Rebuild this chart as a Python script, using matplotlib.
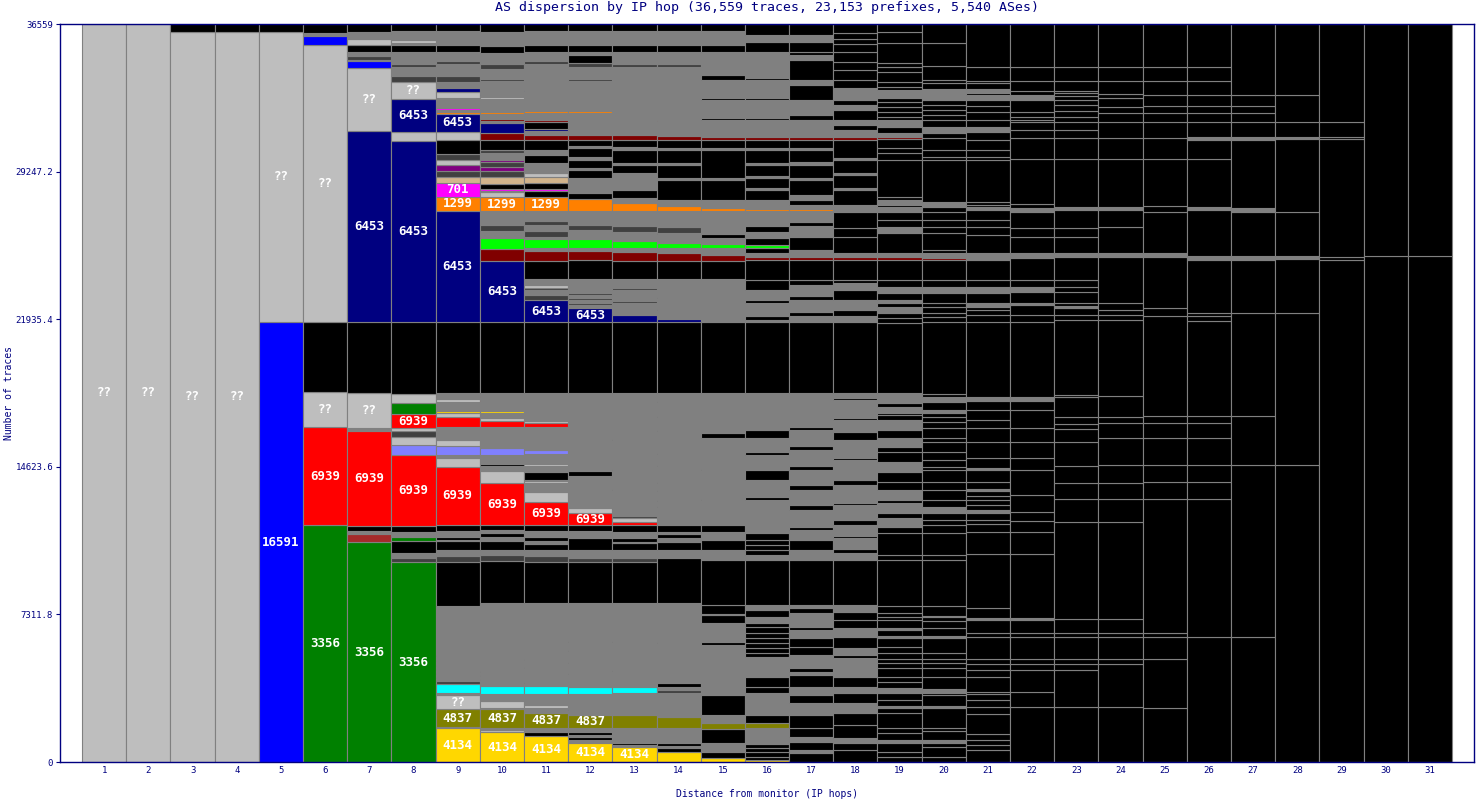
import matplotlib
matplotlib.use("Agg")
import matplotlib.pyplot as plt
import numpy as np

title = "AS dispersion by IP hop (36,559 traces, 23,153 prefixes, 5,540 ASes)"
total_traces = 36559
hops = list(range(1, 32))
y_ticks = [0, 7311.8, 14623.6, 21935.4, 29247.2, 36559]
y_tick_labels = ["0", "7311.8", "14623.6", "21935.4", "29247.2", "36559"]

colors = {
    "g": "#bebebe", "k": "#000000", "m": "#808080", "d": "#404040",
    "B": "#0000ff", "N": "#000080", "R": "#ff0000", "G": "#008000",
    "L": "#00ff00", "O": "#ff8000", "M": "#ff00ff", "Y": "#ffd700",
    "V": "#808000", "C": "#00ffff", "W": "#800000", "P": "#800080",
    "T": "#d2b48c", "S": "#8080ff", "b": "#a52a2a",
}

# hops 1-15: (traces, colour, AS) stacked from the bottom
hop1 = [(36559, "g", "??")]
hop2 = [(36559, "g", "??")]
hop3 = [(36185, "g", "??"), (450, "k")]
hop4 = [(36185, "g", "??"), (450, "k")]
hop5 = [(21780, "B", "16591"), (14405, "g", "??"), (450, "k")]
hop6 = [(11730, "G", "3356"), (4850, "R", "6939"), (1730, "g", "??"), (3465, "k"),
        (13760, "g", "??"), (445, "B"), (100, "m"), (50, "G"), (450, "k")]
hop7 = [(10890, "G", "3356"), (396, "b"), (150, "m"), (250, "k"), (4700, "R", "6939"),
        (150, "m"), (1730, "g", "??"), (3515, "k"), (9455, "N", "6453"), (3120, "g", "??"),
        (347, "B"), (50, "m"), (198, "d"), (198, "m"), (347, "k"), (297, "g"), (99, "m"),
        (50, "B"), (198, "m"), (450, "k")]
hop8 = [(9900, "G", "3356"), (200, "d"), (250, "m"), (594, "k"), (198, "G"), (250, "m"),
        (297, "k"), (3515, "R", "6939"), (495, "S"), (396, "g"), (297, "d"), (150, "g"),
        (693, "R", "6939"), (545, "G"), (445, "g"), (3564, "k"), (8960, "N", "6453"),
        (445, "g"), (1634, "N", "6453"), (842, "g", "??"), (297, "d"), (445, "m"), (150, "d"),
        (594, "m"), (347, "k"), (100, "m"), (150, "g"), (297, "m"), (50, "G"), (100, "m"),
        (450, "k")]
hop9 = [(1683, "Y", "4134"), (50, "m"), (891, "V", "4837"), (693, "g", "??"), (99, "m"),
        (446, "C"), (150, "d"), (150, "m"), (50, "d"), (150, "m"), (50, "d"), (150, "m"),
        (50, "d"), (150, "m"), (50, "d"), (200, "m"), (50, "d"), (200, "m"), (50, "d"),
        (200, "m"), (2228, "m"), (2180, "k"), (297, "d"), (297, "m"), (446, "k"), (50, "g"),
        (150, "k"), (297, "m"), (297, "k"), (2871, "R", "6939"), (446, "g"), (150, "m"),
        (446, "S"), (297, "g"), (644, "m"), (495, "R"), (198, "g"), (99, "Y"), (446, "m"),
        (150, "g"), (99, "m"), (50, "R"), (150, "m"), (3515, "k"), (5495, "N", "6453"),
        (693, "O", "1299"), (693, "M", "701"), (297, "T"), (297, "d"), (297, "P"), (248, "g"),
        (297, "d"), (693, "k"), (396, "g"), (891, "N", "6453"), (99, "O"), (99, "m"),
        (99, "M"), (495, "m"), (297, "g"), (198, "N"), (297, "m"), (297, "d"), (594, "m"),
        (150, "d"), (446, "m"), (347, "k"), (693, "m"), (450, "k")]
hop10 = [(1485, "Y", "4134"), (99, "g"), (99, "m"), (941, "V", "4837"), (50, "m"), (347, "g"),
         (347, "m"), (396, "C"), (149, "m"), (50, "d"), (99, "m"), (50, "d"), (149, "m"),
         (50, "d"), (149, "m"), (50, "d"), (3366, "m"), (2079, "k"), (297, "d"), (248, "m"),
         (446, "k"), (198, "m"), (198, "k"), (149, "m"), (248, "k"), (2079, "R", "6939"),
         (594, "g"), (248, "m"), (99, "k"), (446, "m"), (347, "S"), (1040, "m"), (297, "R"),
         (149, "g"), (248, "m"), (99, "Y"), (495, "m"), (50, "R"), (149, "m"), (50, "R"),
         (149, "m"), (3515, "k"), (3020, "N", "6453"), (594, "W"), (545, "L"), (347, "m"),
         (297, "d"), (297, "m"), (50, "T"), (347, "m"), (693, "O", "1299"), (248, "g"),
         (50, "m"), (99, "M"), (248, "k"), (347, "T"), (297, "d"), (198, "P"), (248, "d"),
         (99, "P"), (347, "m"), (150, "d"), (495, "k"), (347, "W"), (495, "N"), (99, "m"),
         (99, "W"), (50, "L"), (198, "m"), (99, "O"), (248, "m"), (50, "T"), (347, "m"),
         (99, "g"), (99, "m"), (50, "N"), (150, "m"), (50, "N"), (446, "m"), (99, "d"),
         (495, "m"), (248, "d"), (545, "m"), (347, "k"), (693, "m"), (450, "k")]
hop11 = [(1287, "Y", "4134"), (198, "k"), (198, "m"), (743, "V", "4837"), (248, "m"),
         (149, "g"), (545, "m"), (396, "C"), (149, "m"), (50, "k"), (693, "m"), (50, "d"),
         (347, "m"), (50, "d"), (2772, "m"), (2030, "k"), (297, "d"), (297, "m"), (297, "k"),
         (149, "m"), (198, "k"), (297, "m"), (297, "k"), (1139, "R", "6939"), (495, "g"),
         (446, "m"), (99, "g"), (50, "m"), (396, "k"), (297, "m"), (99, "g"), (495, "m"),
         (198, "S"), (1139, "m"), (198, "R"), (99, "g"), (396, "m"), (50, "Y"), (941, "m"),
         (3515, "k"), (1089, "N", "6453"), (248, "d"), (248, "m"), (99, "d"), (149, "g"),
         (297, "m"), (891, "k"), (495, "W"), (149, "m"), (446, "L"), (99, "m"), (297, "d"),
         (297, "m"), (198, "d"), (50, "g"), (446, "m"), (693, "O", "1299"), (297, "k"),
         (99, "M"), (297, "k"), (297, "T"), (198, "g"), (495, "m"), (396, "k"), (248, "m"),
         (495, "k"), (248, "W"), (198, "m"), (99, "N"), (347, "k"), (99, "W"), (347, "m"),
         (99, "O"), (248, "m"), (50, "T"), (396, "m"), (50, "g"), (248, "m"), (50, "N"),
         (1287, "m"), (149, "d"), (446, "m"), (347, "k"), (693, "m"), (450, "k")]
hop12 = [(941, "Y", "4134"), (149, "m"), (149, "k"), (99, "m"), (149, "k"), (198, "m"),
         (644, "V", "4837"), (248, "m"), (50, "k"), (743, "m"), (347, "C"), (644, "m"),
         (50, "k"), (495, "m"), (50, "k"), (545, "m"), (50, "k"), (396, "m"), (50, "k"),
         (1881, "m"), (2030, "k"), (198, "d"), (396, "m"), (594, "k"), (347, "m"), (297, "k"),
         (594, "R", "6939"), (248, "g"), (347, "m"), (50, "g"), (1188, "m"), (248, "k"),
         (842, "m"), (50, "S"), (1287, "m"), (50, "R"), (644, "m"), (50, "Y"), (941, "m"),
         (3515, "k"), (693, "N", "6453"), (149, "m"), (99, "d"), (149, "m"), (99, "d"),
         (149, "m"), (99, "d"), (297, "m"), (396, "m"), (941, "k"), (446, "W"), (149, "m"),
         (446, "L"), (297, "m"), (50, "g"), (99, "m"), (248, "d"), (693, "m"), (594, "O"),
         (297, "k"), (743, "m"), (396, "k"), (99, "m"), (396, "k"), (149, "m"), (446, "k"),
         (99, "m"), (297, "k"), (248, "W"), (198, "m"), (50, "N"), (842, "m"), (99, "O"),
         (644, "m"), (50, "g"), (792, "m"), (99, "d"), (594, "m"), (198, "d"), (396, "k"),
         (149, "m"), (347, "k"), (693, "m"), (450, "k")]
hop13 = [(743, "Y", "4134"), (99, "m"), (99, "k"), (743, "m"), (644, "V"), (1089, "m"),
         (297, "C"), (792, "m"), (50, "k"), (1386, "m"), (50, "k"), (1881, "m"), (2030, "k"),
         (198, "d"), (396, "m"), (347, "k"), (50, "m"), (198, "k"), (297, "m"), (347, "k"),
         (149, "R"), (198, "g"), (99, "d"), (347, "m"), (50, "k"), (891, "m"), (50, "k"),
         (941, "m"), (50, "k"), (1436, "m"), (50, "k"), (2277, "m"), (3515, "k"), (347, "N"),
         (594, "m"), (99, "d"), (545, "m"), (99, "d"), (446, "m"), (891, "k"), (446, "W"),
         (198, "m"), (347, "L"), (396, "m"), (50, "g"), (297, "d"), (743, "m"), (396, "O"),
         (248, "m"), (396, "k"), (842, "m"), (396, "k"), (99, "m"), (644, "k"), (149, "m"),
         (347, "k"), (248, "W"), (1089, "m"), (50, "O"), (2228, "m"), (149, "d"), (594, "m"),
         (347, "k"), (693, "m"), (450, "k")]
hop14 = [(495, "Y"), (198, "k"), (99, "m"), (149, "k"), (743, "m"), (545, "V"), (1139, "m"),
         (50, "C"), (149, "d"), (149, "m"), (198, "k"), (1980, "m"), (50, "k"), (1931, "m"),
         (2228, "k"), (396, "m"), (396, "k"), (198, "m"), (198, "k"), (99, "m"), (347, "k"),
         (891, "m"), (50, "k"), (248, "m"), (50, "k"), (446, "m"), (50, "k"), (347, "m"),
         (50, "k"), (792, "m"), (50, "k"), (545, "m"), (50, "k"), (1089, "m"), (50, "k"),
         (644, "m"), (50, "k"), (693, "m"), (50, "k"), (394, "m"), (3515, "k"), (149, "N"),
         (446, "m"), (50, "k"), (545, "m"), (50, "k"), (891, "m"), (891, "k"), (396, "W"),
         (248, "m"), (248, "L"), (446, "m"), (50, "k"), (297, "d"), (792, "m"), (248, "O"),
         (297, "m"), (990, "k"), (99, "m"), (644, "k"), (99, "m"), (644, "k"), (99, "m"),
         (396, "k"), (198, "W"), (743, "m"), (50, "W"), (2624, "m"), (149, "d"), (594, "m"),
         (347, "k"), (693, "m"), (450, "k")]
hop15 = [(198, "Y"), (297, "k"), (446, "m"), (693, "k"), (297, "V"), (396, "m"), (990, "k"),
         (2475, "m"), (149, "k"), (941, "m"), (396, "k"), (50, "m"), (446, "k"), (2228, "k"),
         (495, "m"), (495, "k"), (396, "m"), (347, "k"), (1238, "m"), (50, "k"), (1436, "m"),
         (50, "k"), (1535, "m"), (248, "k"), (1980, "m"), (3515, "k"), (66, "N"), (2079, "m"),
         (891, "k"), (297, "W"), (347, "m"), (198, "L"), (297, "m"), (198, "k"), (1139, "m"),
         (149, "O"), (396, "m"), (990, "k"), (99, "m"), (1386, "k"), (99, "m"), (396, "k"),
         (149, "W"), (842, "m"), (99, "k"), (891, "m"), (99, "k"), (891, "m"), (248, "k"),
         (1139, "m"), (347, "k"), (693, "m"), (450, "k")]

# hops 16-31: (upper edge in traces, colour) stacked from the bottom
hop16 = [(99, "Y"), (248, "k"), (495, "k"), (693, "k"), (892, "k"), (1684, "m"), (1932, "V"),
         (2328, "k"), (3418, "m"), (3716, "k"), (4211, "k"), (5202, "m"), (5400, "k"),
         (5648, "k"), (5895, "k"), (6143, "k"), (6391, "k"), (6688, "k"), (6886, "k"),
         (7183, "m"), (7530, "k"), (7778, "m"), (10007, "k"), (10255, "m"), (10502, "k"),
         (10750, "k"), (10998, "k"), (11345, "k"), (11642, "m"), (12979, "m"), (13128, "k"),
         (13970, "m"), (14466, "k"), (15209, "m"), (15357, "k"), (16051, "m"), (16447, "k"),
         (18280, "m"), (21798, "k"), (21897, "m"), (22095, "k"), (22739, "m"), (22887, "k"),
         (23383, "m"), (23879, "k"), (24869, "k"), (25018, "W"), (25216, "m"), (25464, "k"),
         (25612, "L"), (25960, "k"), (26257, "m"), (26554, "k"), (27297, "m"), (27396, "O"),
         (27841, "m"), (28337, "k"), (28436, "m"), (28931, "k"), (29030, "m"), (29575, "k"),
         (29674, "m"), (30318, "k"), (30417, "m"), (30814, "k"), (30962, "W"), (31805, "m"),
         (31904, "k"), (32795, "m"), (32894, "k"), (33786, "m"), (33885, "k"), (34480, "m"),
         (35173, "m"), (35669, "k"), (36016, "m"), (36559, "k")]
hop17 = [(446, "k"), (594, "m"), (991, "k"), (1238, "m"), (1684, "k"), (2328, "k"), (2923, "m"),
         (3319, "k"), (3716, "m"), (4310, "k"), (4459, "m"), (4657, "k"), (5301, "m"),
         (5697, "k"), (6143, "k"), (6539, "m"), (6688, "k"), (7381, "m"), (7629, "k"),
         (7778, "m"), (10007, "k"), (10502, "m"), (10998, "k"), (11493, "m"), (11642, "k"),
         (12484, "m"), (12732, "k"), (13475, "m"), (13722, "k"), (14466, "m"), (14664, "k"),
         (15456, "m"), (15654, "k"), (16447, "m"), (16596, "k"), (18280, "m"), (21798, "k"),
         (22095, "m"), (22293, "k"), (22887, "m"), (23086, "k"), (23631, "m"), (23879, "k"),
         (24869, "k"), (25018, "W"), (25365, "m"), (26009, "k"), (26554, "m"), (26752, "k"),
         (27297, "m"), (27396, "O"), (27594, "m"), (27841, "k"), (28090, "m"), (28832, "k"),
         (28931, "m"), (29575, "k"), (29724, "m"), (30318, "k"), (30417, "m"), (30814, "k"),
         (30962, "W"), (31805, "m"), (32053, "k"), (32795, "m"), (33538, "k"), (33786, "m"),
         (34777, "k"), (35024, "m"), (35173, "k"), (35669, "k"), (36016, "m"), (36559, "k")]
hop18 = [(594, "k"), (941, "k"), (1189, "m"), (1833, "k"), (2427, "k"), (2923, "m"),
         (3418, "k"), (3716, "m"), (4211, "k"), (4558, "m"), (5152, "m"), (5301, "k"),
         (5648, "m"), (6193, "k"), (6638, "m"), (7035, "k"), (7431, "k"), (7778, "m"),
         (10007, "k"), (10354, "m"), (10552, "k"), (11097, "m"), (11196, "k"), (11741, "m"),
         (11989, "k"), (12732, "m"), (12831, "k"), (13722, "m"), (13970, "k"), (14961, "m"),
         (15060, "k"), (15952, "m"), (16348, "k"), (16942, "m"), (17041, "k"), (17933, "m"),
         (18032, "k"), (18280, "m"), (21798, "k"), (22095, "m"), (22392, "k"), (22887, "m"),
         (23383, "k"), (23730, "m"), (23879, "k"), (24869, "k"), (25018, "W"), (25216, "m"),
         (26009, "k"), (26455, "k"), (27247, "k"), (27594, "m"), (28337, "k"), (28436, "m"),
         (29080, "k"), (29179, "m"), (29823, "k"), (29922, "m"), (30814, "k"), (30962, "W"),
         (31309, "m"), (31557, "k"), (31805, "m"), (32300, "k"), (32547, "m"), (32795, "k"),
         (33390, "m"), (33786, "k"), (34282, "k"), (34678, "k"), (35173, "k"), (35570, "k"),
         (35817, "k"), (36115, "k"), (36559, "k")]
hop19 = [(248, "k"), (495, "k"), (941, "k"), (1090, "m"), (1437, "k"), (1684, "k"), (2427, "k"),
         (2675, "k"), (2774, "m"), (3071, "k"), (3418, "k"), (3666, "m"), (3963, "k"),
         (4211, "k"), (4657, "k"), (4904, "k"), (5103, "k"), (5400, "k"), (5697, "k"),
         (6143, "k"), (6242, "m"), (6539, "k"), (6638, "m"), (7035, "k"), (7183, "k"),
         (7381, "k"), (7728, "k"), (10007, "k"), (10255, "k"), (11345, "k"), (11642, "k"),
         (12088, "m"), (12335, "k"), (12831, "m"), (12979, "k"), (13475, "m"), (13871, "k"),
         (14367, "k"), (14862, "m"), (15357, "k"), (15605, "k"), (16051, "m"), (16447, "k"),
         (16942, "m"), (17190, "k"), (17289, "k"), (17587, "m"), (17785, "k"), (18280, "m"),
         (21748, "k"), (21996, "k"), (22243, "k"), (22541, "m"), (22739, "k"), (22887, "m"),
         (23234, "k"), (23532, "m"), (23879, "k"), (24869, "k"), (25018, "W"), (25216, "m"),
         (26207, "k"), (26504, "m"), (26851, "k"), (27247, "k"), (27495, "m"), (27594, "k"),
         (27841, "m"), (27990, "k"), (29823, "k"), (30169, "k"), (30417, "k"), (30863, "k"),
         (30962, "W"), (31160, "m"), (31457, "k"), (31805, "m"), (31953, "k"), (32201, "k"),
         (32449, "k"), (32696, "k"), (32894, "k"), (33290, "m"), (33439, "k"), (33687, "k"),
         (34183, "k"), (34430, "k"), (34628, "k"), (35619, "k"), (36164, "k"), (36559, "k")]
hop20 = [(248, "k"), (743, "k"), (941, "k"), (1090, "m"), (1536, "k"), (1684, "k"), (2675, "k"),
         (2774, "m"), (3319, "k"), (3418, "k"), (3616, "m"), (4211, "k"), (4657, "k"),
         (4904, "k"), (5103, "k"), (5400, "k"), (6143, "k"), (6242, "m"), (6638, "k"),
         (6985, "k"), (7183, "k"), (7233, "k"), (7728, "k"), (10007, "k"), (10255, "k"),
         (11345, "k"), (11741, "k"), (11989, "k"), (12335, "k"), (12633, "m"), (12979, "k"),
         (13475, "k"), (13871, "k"), (14466, "k"), (14615, "k"), (14961, "k"), (15357, "k"),
         (15853, "k"), (16051, "k"), (16546, "k"), (16843, "k"), (17091, "k"), (17289, "k"),
         (17438, "m"), (17834, "k"), (18082, "m"), (18231, "k"), (21798, "k"), (22045, "k"),
         (22243, "k"), (22541, "k"), (22739, "k"), (23234, "k"), (23532, "m"), (23879, "k"),
         (24869, "k"), (24968, "W"), (25216, "m"), (25365, "k"), (26207, "k"), (26504, "k"),
         (26851, "k"), (27247, "k"), (27495, "k"), (27742, "m"), (29823, "k"), (29972, "k"),
         (30318, "k"), (30913, "k"), (31160, "k"), (31457, "m"), (31805, "k"), (32053, "k"),
         (32300, "k"), (32547, "k"), (32795, "k"), (33340, "m"), (33637, "k"), (33786, "k"),
         (34480, "k"), (35619, "k"), (36559, "k")]
hop21 = [(594, "k"), (842, "k"), (1090, "k"), (1387, "k"), (2378, "k"), (2725, "k"), (3071, "k"),
         (3369, "k"), (3468, "k"), (4211, "k"), (4558, "k"), (4855, "k"), (5103, "k"),
         (6193, "k"), (6391, "k"), (7035, "k"), (7134, "m"), (7629, "k"), (10304, "k"),
         (11394, "k"), (11790, "k"), (11989, "k"), (12335, "k"), (12484, "m"), (12732, "k"),
         (12979, "k"), (13178, "k"), (13426, "k"), (13525, "m"), (13871, "k"), (14466, "k"),
         (14565, "m"), (15060, "k"), (15853, "k"), (16546, "k"), (16942, "k"), (17438, "k"),
         (17884, "k"), (18082, "m"), (21798, "k"), (22144, "k"), (22392, "k"), (22541, "k"),
         (22739, "m"), (23234, "k"), (23532, "m"), (23879, "k"), (24869, "k"), (25216, "m"),
         (26108, "k"), (26504, "k"), (26851, "k"), (27346, "k"), (27495, "m"), (27594, "k"),
         (27742, "k"), (29823, "k"), (29972, "k"), (30318, "k"), (30814, "k"), (31210, "k"),
         (31457, "m"), (31805, "k"), (32201, "k"), (32498, "k"), (32795, "k"), (33043, "m"),
         (33142, "k"), (33340, "m"), (33637, "k"), (33736, "k"), (34430, "k"), (36559, "k")]
hop22 = [(2725, "k"), (3468, "k"), (4558, "k"), (4855, "k"), (5103, "k"), (6193, "k"),
         (6391, "k"), (7035, "k"), (7134, "m"), (10304, "k"), (11394, "k"), (11939, "k"),
         (12385, "k"), (13227, "k"), (14466, "k"), (15060, "k"), (15853, "k"), (16546, "k"),
         (17438, "k"), (17884, "k"), (18082, "m"), (21798, "k"), (22144, "k"), (22640, "k"),
         (22739, "m"), (23283, "k"), (23532, "m"), (23879, "k"), (24968, "k"), (25216, "m"),
         (26009, "k"), (26455, "k"), (27247, "k"), (27445, "m"), (27643, "k"), (29873, "k"),
         (30913, "k"), (31309, "k"), (31706, "k"), (31805, "k"), (31953, "k"), (32201, "k"),
         (32795, "k"), (33043, "m"), (33241, "k"), (33736, "k"), (34430, "k"), (36559, "k")]
hop23 = [(2725, "k"), (4558, "k"), (4855, "k"), (5103, "k"), (6193, "k"), (6391, "k"),
         (7084, "k"), (11890, "k"), (13029, "k"), (13822, "k"), (14664, "k"), (15853, "k"),
         (16497, "k"), (16745, "k"), (17091, "k"), (18082, "k"), (18181, "k"), (21897, "k"),
         (22144, "k"), (22491, "k"), (22590, "m"), (22739, "k"), (23283, "k"), (23532, "k"),
         (23879, "k"), (25018, "k"), (25216, "m"), (26009, "k"), (26455, "k"), (27346, "k"),
         (27495, "m"), (29873, "k"), (30913, "k"), (31309, "k"), (31706, "k"), (31953, "k"),
         (32251, "k"), (32547, "k"), (32795, "k"), (32994, "k"), (33142, "k"), (33241, "k"),
         (33736, "k"), (34430, "k"), (36559, "k")]
hop24 = [(2725, "k"), (4855, "k"), (5103, "k"), (6193, "k"), (6391, "k"), (7084, "k"),
         (11890, "k"), (13029, "k"), (13822, "k"), (14713, "k"), (16051, "k"), (16794, "k"),
         (17091, "k"), (18132, "k"), (21897, "k"), (22144, "k"), (22392, "k"), (22739, "k"),
         (25018, "k"), (25216, "m"), (26504, "k"), (27346, "k"), (27495, "m"), (29873, "k"),
         (30913, "k"), (31706, "k"), (32152, "k"), (32449, "k"), (32894, "k"), (33092, "k"),
         (33736, "k"), (34430, "k"), (36559, "k")]
hop25 = [(2675, "k"), (5103, "k"), (6193, "k"), (6391, "k"), (13029, "k"), (13871, "k"),
         (14713, "k"), (16051, "k"), (16794, "k"), (17141, "k"), (22095, "k"), (22491, "k"),
         (25018, "k"), (25216, "m"), (27247, "k"), (27544, "k"), (29873, "k"), (30913, "k"),
         (31706, "k"), (32152, "k"), (32498, "k"), (33043, "k"), (33736, "k"), (34430, "k"),
         (36559, "k")]
hop26 = [(6193, "k"), (13029, "k"), (13871, "k"), (14713, "k"), (16051, "k"), (16794, "k"),
         (17141, "k"), (21847, "k"), (22095, "k"), (22243, "k"), (24869, "k"), (25068, "m"),
         (27346, "k"), (27495, "m"), (29873, "k"), (30814, "k"), (30962, "m"), (31706, "k"),
         (32152, "k"), (32498, "k"), (33043, "k"), (33736, "k"), (34430, "k"), (36559, "k")]
hop27 = [(6193, "k"), (14713, "k"), (17141, "k"), (22243, "k"), (24869, "k"), (25068, "m"),
         (27247, "k"), (27445, "m"), (30814, "k"), (30962, "m"), (31706, "k"), (32152, "k"),
         (32498, "k"), (33043, "k"), (36559, "k")]
hop28 = [(14713, "k"), (22243, "k"), (24919, "k"), (25068, "m"), (27247, "k"), (30863, "k"),
         (30962, "m"), (31706, "k"), (33043, "k"), (36559, "k")]
hop29 = [(24869, "k"), (25018, "k"), (30863, "k"), (30962, "k"), (31706, "k"), (36559, "k")]
hop30 = [(25068, "k"), (36559, "k")]
hop31 = [(25068, "k"), (36559, "k")]

count_hops = [hop1, hop2, hop3, hop4, hop5, hop6, hop7, hop8, hop9, hop10, hop11, hop12,
              hop13, hop14, hop15]
edge_hops = [hop16, hop17, hop18, hop19, hop20, hop21, hop22, hop23, hop24, hop25, hop26,
             hop27, hop28, hop29, hop30, hop31]

navy = "#000080"
mono = "DejaVu Sans Mono"

fig = plt.figure(figsize=(14.76, 8), dpi=100)
ax = fig.add_axes([60 / 1476, 38 / 800, 1414 / 1476, 738 / 800])


def draw_hop(x, heights, codes, labels):
    heights = np.asarray(heights, dtype=float)
    bottoms = np.concatenate([[0], np.cumsum(heights)[:-1]])
    ax.bar([x] * len(heights), heights, bottom=bottoms, width=1.0,
           color=[colors[c] for c in codes], edgecolor="#808080", linewidth=0.8)
    for b, h, lab in zip(bottoms, heights, labels):
        if lab:
            ax.text(x, b + h / 2, lab, ha="center", va="center", color="white",
                    fontsize=9, fontweight="bold", family=mono)


for x, segs in zip(hops, count_hops):
    draw_hop(x, [s[0] for s in segs], [s[1] for s in segs],
             [s[2] if len(s) > 2 else "" for s in segs])

for x, segs in zip(hops[15:], edge_hops):
    tops = [s[0] for s in segs]
    draw_hop(x, np.diff([0] + tops), [s[1] for s in segs], [""] * len(segs))

ax.set_xlim(0, 32)
ax.set_ylim(0, total_traces)
ax.set_xticks(hops)
ax.set_xticklabels([str(h) for h in hops], fontsize=6.5, family=mono, color=navy)
ax.set_yticks(y_ticks)
ax.set_yticklabels(y_tick_labels, fontsize=6.5, family=mono, color=navy)
ax.tick_params(axis="x", length=0, pad=3)
ax.tick_params(axis="y", length=3, color=navy, pad=2)
for sp in ax.spines.values():
    sp.set_color(navy)
    sp.set_linewidth(1)

ax.set_title(title, color=navy, fontsize=9.5, family=mono, pad=9)
ax.set_xlabel("Distance from monitor (IP hops)", color=navy, fontsize=7, family=mono)
ax.set_ylabel("Number of traces", color=navy, fontsize=7, family=mono)
ax.xaxis.set_label_coords(0.5, -0.036)
ax.yaxis.set_label_coords(-0.0325, 0.5)

fig.savefig("out.png", dpi=100)
